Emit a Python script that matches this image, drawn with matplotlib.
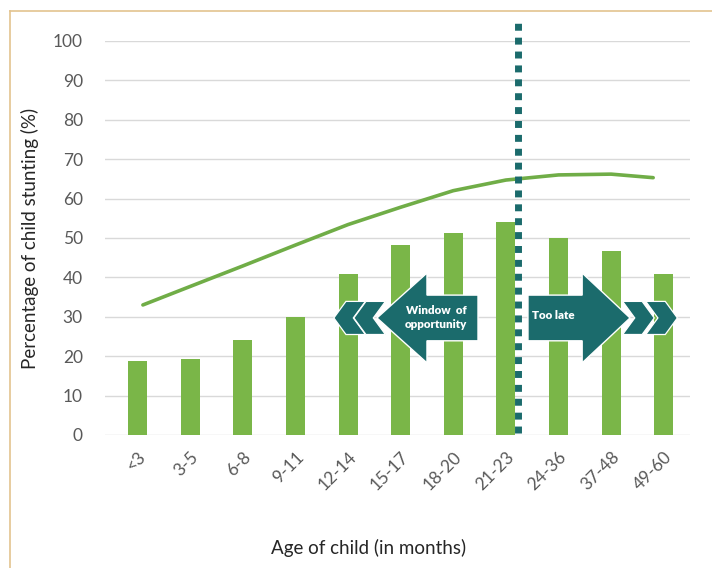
import matplotlib
matplotlib.use("Agg")
import matplotlib.pyplot as plt
from matplotlib.patches import Polygon
from matplotlib.lines import Line2D

plt.rcParams['font.family'] = ['Lato', 'DejaVu Sans']

# data
age_groups = ["<3", "3-5", "6-8", "9-11", "12-14", "15-17", "18-20",
              "21-23", "24-36", "37-48", "49-60"]
stunting = [18.8, 19.3, 24.1, 29.9, 40.9, 48.1, 51.3, 54.1, 50.0, 46.6, 40.9]

trend_x = [0.1, 1, 2, 3, 4, 5, 6, 7, 8, 9, 9.8]
trend_y = [33.0, 37.7, 42.9, 48.2, 53.4, 57.8, 62.0, 64.7, 66.0, 66.2, 65.3]

cutoff_x = 7.23
yticks = list(range(0, 101, 10))

BAR = '#7ab648'
LINE = '#70ad47'
TEAL = '#1b6b6c'
GREY = '#595959'

fig = plt.figure(figsize=(7.12, 5.68), dpi=100)
ax = fig.add_axes([0.1475, 0.2342, 0.8216, 0.6937])

x = list(range(len(age_groups)))
ax.bar(x, stunting, width=0.36, color=BAR, zorder=2)
ax.plot(trend_x, trend_y, color=LINE, lw=2.6, solid_capstyle='round',
        solid_joinstyle='round', zorder=3)

# cutoff at 2 years
ax.plot([cutoff_x, cutoff_x], [0.5, 104.8], color=TEAL, lw=5,
        linestyle=(0, (1, 1)), dash_capstyle='butt', clip_on=False, zorder=4)


def arrow(tail, base, tip, yc=29.7, body=(23.9, 35.5), head=(18.3, 41.1)):
    pts = [(tail, body[0]), (base, body[0]), (base, head[0]), (tip, yc),
           (base, head[1]), (base, body[1]), (tail, body[1])]
    ax.add_patch(Polygon(pts, closed=True, fc=TEAL, ec='white', lw=1.0, zorder=5))


def chevron(x0, direction, yc=29.7, h=4.2, w=0.23, t=0.37):
    # x0 is the pointed end for left chevrons, the back for right ones
    if direction < 0:
        pts = [(x0, yc), (x0 + w, yc + h), (x0 + w + t, yc + h), (x0 + t, yc),
               (x0 + w + t, yc - h), (x0 + w, yc - h)]
    else:
        pts = [(x0, yc + h), (x0 + t, yc + h), (x0 + t + w, yc), (x0 + t, yc - h),
               (x0, yc - h), (x0 + w, yc)]
    ax.add_patch(Polygon(pts, closed=True, fc=TEAL, ec='white', lw=0.9, zorder=5))


arrow(6.47, 5.50, 4.55)
chevron(3.73, -1)
chevron(4.11, -1)
arrow(7.42, 8.45, 9.36)
chevron(9.22, 1)
chevron(9.66, 1)

ax.text(5.67, 29.9, "Window  of\nopportunity", color='white', fontsize=8.3,
        fontweight='heavy', ha='center', va='center', linespacing=1.3, zorder=6)
ax.text(7.50, 30.2, "Too late", color='white', fontsize=8.4,
        fontweight='heavy', ha='left', va='center', zorder=6)

ax.set_xlim(-0.62, 10.5)
ax.set_ylim(0, 100)
ax.set_yticks(yticks)
ax.set_xticks(x)
ax.set_xticklabels(age_groups, rotation=45, ha='right', rotation_mode='anchor')
ax.tick_params(axis='both', length=0, colors=GREY, labelsize=12.5)
ax.tick_params(axis='y', pad=16)
ax.tick_params(axis='x', pad=10)
ax.grid(axis='y', color='#d9d9d9', lw=1, zorder=0)
ax.set_axisbelow(True)
for s in ax.spines.values():
    s.set_visible(False)

ax.set_ylabel("Percentage of child stunting (%)", fontsize=13.5, color='#262626',
              labelpad=10)
fig.text(0.518, 0.035, "Age of child (in months)", fontsize=13.5, color='#262626',
         ha='center', va='center')

# frame of the original picture (only left and top edges are visible)
fig.add_artist(Line2D([10 / 712, 10 / 712], [0, 1 - 11 / 568], color='#e3c38f', lw=1.2))
fig.add_artist(Line2D([10 / 712, 1], [1 - 11 / 568, 1 - 11 / 568], color='#e3c38f', lw=1.2))

fig.savefig("out.png", dpi=100)
